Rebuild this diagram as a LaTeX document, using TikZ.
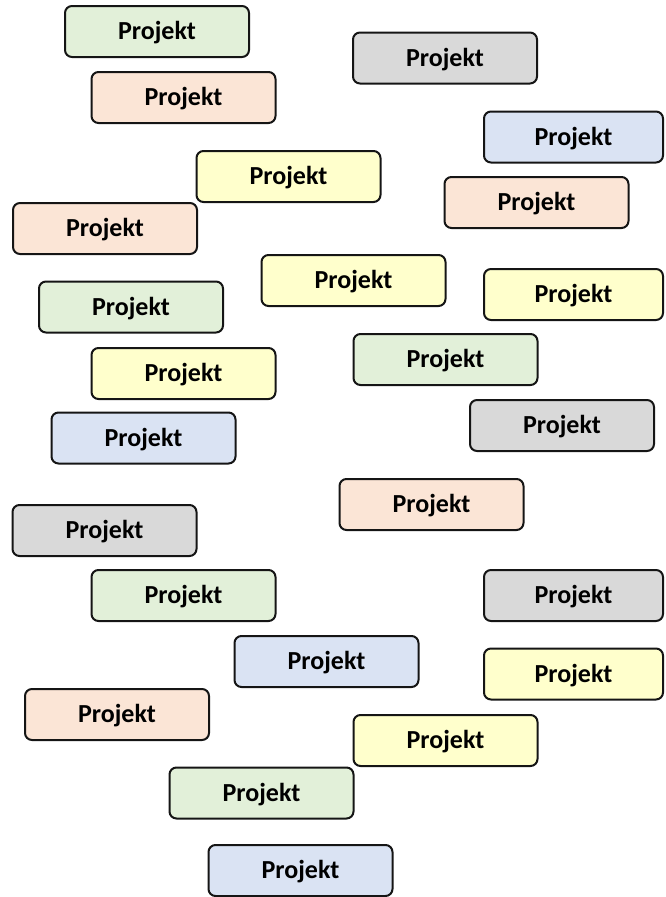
\documentclass[tikz,border=0pt]{standalone}
\usepackage{fontspec}
\setmainfont{Carlito}
\definecolor{pgreen}{HTML}{E2F0D9}
\definecolor{ppeach}{HTML}{FBE5D6}
\definecolor{pblue}{HTML}{DAE3F3}
\definecolor{pyellow}{HTML}{FFFFCC}
\definecolor{pgray}{HTML}{D9D9D9}
\definecolor{pline}{HTML}{151515}
\begin{document}
\begin{tikzpicture}[x=1pt,y=-1pt,
  pbox/.style={draw=pline, line width=2pt, rounded corners=7pt,
    minimum width=184pt, minimum height=51pt, inner sep=0pt,
    font=\fontsize{26}{26}\selectfont\bfseries, text height=16.5pt, text depth=0pt},
  rbox/.style={pbox, minimum width=179pt},
  fgreen/.style={fill=pgreen}, fpeach/.style={fill=ppeach}, fblue/.style={fill=pblue},
  fyellow/.style={fill=pyellow}, fgray/.style={fill=pgray}]
\useasboundingbox (0,0) rectangle (665,897);
\node[pbox,fgreen] (n1) at (157,31.5) {Projekt};
\node[pbox,fgray] (n2) at (445,58) {Projekt};
\node[pbox,fpeach] (n3) at (183.5,97.5) {Projekt};
\node[rbox,fblue] (n4) at (573.5,137) {Projekt};
\node[pbox,fyellow] (n5) at (288.5,176.5) {Projekt};
\node[pbox,fpeach] (n6) at (536.5,202.5) {Projekt};
\node[pbox,fpeach] (n7) at (105,228.5) {Projekt};
\node[pbox,fyellow] (n8) at (353.5,280.5) {Projekt};
\node[rbox,fyellow] (n9) at (573.5,294.5) {Projekt};
\node[pbox,fgreen] (n10) at (131,307) {Projekt};
\node[pbox,fgreen] (n11) at (445.5,359.5) {Projekt};
\node[pbox,fyellow] (n12) at (183.5,373.5) {Projekt};
\node[pbox,fgray] (n13) at (562,425.5) {Projekt};
\node[pbox,fblue] (n14) at (143.5,438) {Projekt};
\node[pbox,fpeach] (n15) at (431.5,504.5) {Projekt};
\node[pbox,fgray] (n16) at (104.5,530.5) {Projekt};
\node[pbox,fgreen] (n17) at (183.5,595.5) {Projekt};
\node[rbox,fgray] (n18) at (573.5,595.5) {Projekt};
\node[pbox,fblue] (n19) at (326.5,661.5) {Projekt};
\node[rbox,fyellow] (n20) at (573.5,674) {Projekt};
\node[pbox,fpeach] (n21) at (117,714.5) {Projekt};
\node[pbox,fyellow] (n22) at (445.5,740.5) {Projekt};
\node[pbox,fgreen] (n23) at (261.5,793) {Projekt};
\node[pbox,fblue] (n24) at (300.5,870.5) {Projekt};
\end{tikzpicture}
\end{document}
